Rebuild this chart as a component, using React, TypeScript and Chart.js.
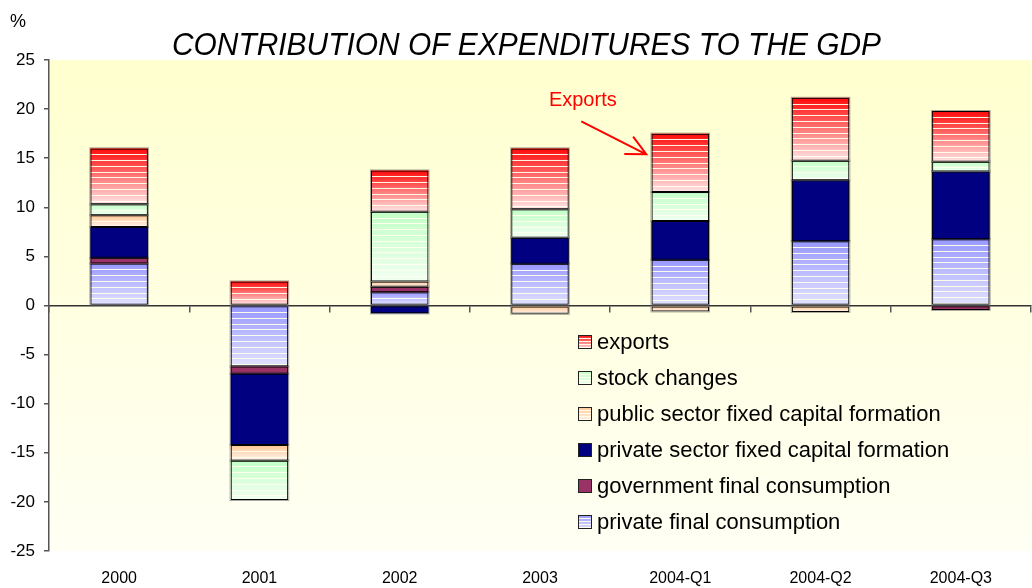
import React, { useEffect, useRef } from "react";
import { Chart, registerables } from "chart.js";

Chart.register(...registerables);

// ---------- DATA ----------
const categories = ["2000", "2001", "2002", "2003", "2004-Q1", "2004-Q2", "2004-Q3"];
const privateFinalConsumption = [4.27, -6.2, 1.35, 4.25, 4.65, 6.55, 6.75];
const governmentFinalConsumption = [0.58, -0.75, 0.55, -0.1, -0.1, -0.1, -0.45];
const privateSectorFixedCapital = [3.15, -7.25, -0.8, 2.65, 3.95, 6.2, 6.9];
const publicSectorFixedCapital = [1.2, -1.6, 0.55, -0.75, -0.5, -0.55, 0];
const stockChanges = [1.1, -4.0, 7.1, 2.9, 2.95, 2.0, 1.0];
const exportsContribution = [5.7, 2.45, 4.2, 6.2, 5.95, 6.4, 5.15];

const seriesLabels = [
  "private final consumption",
  "government final consumption",
  "private sector fixed capital formation",
  "public sector fixed capital formation",
  "stock changes",
  "exports",
];
const yMin = -25;
const yMax = 25;
const yStep = 5;
const titleText = "CONTRIBUTION OF EXPENDITURES TO THE GDP";
const unitText = "%";
const annotationText = "Exports";
const annotationCategory = 4;
const annotationTipValue = 15.4;
const annotationTailValue = 18.75;
const annotationTextValue = 20.27;

// ---------- STYLES ----------
type Fill = { top: string; bottom: string; striped: boolean };
const fills: Fill[] = [
  { top: "#9898FF", bottom: "#E2E2FF", striped: true },
  { top: "#993366", bottom: "#993366", striped: false },
  { top: "#000080", bottom: "#000080", striped: false },
  { top: "#FFC894", bottom: "#FFF3EC", striped: true },
  { top: "#C2FFC6", bottom: "#F2FFF2", striped: true },
  { top: "#FF0A0A", bottom: "#FFE6E6", striped: true },
];
const FONT = "'Liberation Sans', Arial, sans-serif";

function paintBlock(ctx: CanvasRenderingContext2D, x: number, y: number, w: number, h: number, f: Fill, gap: number) {
  ctx.save();
  const g = ctx.createLinearGradient(0, y, 0, y + h);
  g.addColorStop(0, f.top);
  g.addColorStop(1, f.bottom);
  ctx.fillStyle = g;
  ctx.fillRect(x, y, w, h);
  if (f.striped) {
    ctx.fillStyle = "rgba(255,255,236,0.95)";
    for (let sy = y + gap; sy < y + h - 1.5; sy += gap) {
      ctx.fillRect(x, Math.round(sy), w, 1);
    }
  }
  ctx.restore();
}

const decorPlugin = {
  id: "decor",
  beforeDraw(chart: any) {
    const { ctx, chartArea: a, width, height } = chart;
    ctx.save();
    ctx.fillStyle = "#ffffff";
    ctx.fillRect(0, 0, width, height);
    const g = ctx.createLinearGradient(0, a.top, 0, a.bottom);
    g.addColorStop(0, "#FFFFCF");
    g.addColorStop(1, "#FFFFF4");
    ctx.fillStyle = g;
    ctx.fillRect(a.left, a.top, a.right - a.left, a.bottom - a.top);
    ctx.restore();
  },
  beforeDatasetsDraw(chart: any) {
    const ctx = chart.ctx;
    chart.data.datasets.forEach((_ds: any, i: number) => {
      const meta = chart.getDatasetMeta(i);
      if (meta.hidden) return;
      meta.data.forEach((el: any) => {
        const left = el.x - el.width / 2;
        const top = Math.min(el.y, el.base);
        const h = Math.abs(el.base - el.y);
        if (h < 0.5) return;
        ctx.save();
        ctx.strokeStyle = "rgba(90,90,90,0.55)";
        ctx.lineWidth = 1;
        ctx.strokeRect(left - 0.5, top - 0.5, el.width + 1, h + 1);
        ctx.restore();
        paintBlock(ctx, left, top, el.width, h, fills[i], 5.8);
      });
    });
  },
  afterDraw(chart: any) {
    const { ctx, chartArea: a } = chart;
    const xs = chart.scales.x;
    const ys = chart.scales.y;
    ctx.save();
    // unit
    ctx.fillStyle = "#000";
    ctx.font = `18px ${FONT}`;
    ctx.textAlign = "left";
    ctx.textBaseline = "alphabetic";
    ctx.fillText(unitText, 10, 27);
    // title
    ctx.save();
    ctx.translate(a.left + 477.5, 55);
    ctx.scale(0.965, 1);
    ctx.font = `italic 31px ${FONT}`;
    ctx.textAlign = "center";
    ctx.fillText(titleText, 0, 0);
    ctx.restore();

    // annotation
    const cx = xs.getPixelForValue(annotationCategory);
    const tipX = cx - 34;
    const tipY = ys.getPixelForValue(annotationTipValue);
    const tailX = cx - 99;
    const tailY = ys.getPixelForValue(annotationTailValue);
    ctx.strokeStyle = "#FF0000";
    ctx.fillStyle = "#FF0000";
    ctx.lineWidth = 2;
    ctx.beginPath();
    ctx.moveTo(tailX, tailY);
    ctx.lineTo(tipX, tipY);
    const ang = Math.atan2(tipY - tailY, tipX - tailX);
    const hl = 22;
    const ha = 0.46;
    ctx.moveTo(tipX - hl * Math.cos(ang - ha), tipY - hl * Math.sin(ang - ha));
    ctx.lineTo(tipX, tipY);
    ctx.lineTo(tipX - hl * Math.cos(ang + ha), tipY - hl * Math.sin(ang + ha));
    ctx.stroke();
    ctx.font = `20px ${FONT}`;
    ctx.textAlign = "center";
    ctx.fillText(annotationText, cx - 97.5, ys.getPixelForValue(annotationTextValue));

    // legend (reversed order)
    const lx = a.left + 529;
    const ly0 = 342;
    const rowGap = 36;
    ctx.font = `22px ${FONT}`;
    ctx.textAlign = "left";
    ctx.textBaseline = "middle";
    const n = chart.data.datasets.length;
    for (let r = 0; r < n; r++) {
      const i = n - 1 - r;
      const cy = ly0 + r * rowGap;
      paintBlock(ctx, lx, cy - 7, 13, 14, fills[i], 3);
      ctx.strokeStyle = "#222";
      ctx.lineWidth = 1;
      ctx.strokeRect(lx + 0.5, cy - 6.5, 13, 13);
      ctx.fillStyle = "#000";
      ctx.fillText(chart.data.datasets[i].label, lx + 19, cy + 1);
    }
    ctx.restore();
  },
};

export default function App() {
  const ref = useRef<HTMLCanvasElement | null>(null);
  useEffect(() => {
    if (!ref.current) return;
    const series = [
      privateFinalConsumption,
      governmentFinalConsumption,
      privateSectorFixedCapital,
      publicSectorFixedCapital,
      stockChanges,
      exportsContribution,
    ];
    const chart = new Chart(ref.current, {
      type: "bar",
      data: {
        labels: categories,
        datasets: series.map((d, i) => ({
          label: seriesLabels[i],
          data: d,
          backgroundColor: "rgba(0,0,0,0)",
          borderColor: "#000000",
          borderWidth: 1,
          borderSkipped: false,
          barPercentage: 0.41,
          categoryPercentage: 1,
        })),
      },
      options: {
        animation: false,
        responsive: false,
        layout: { padding: { top: 60, right: 1, left: 0, bottom: 0 } },
        plugins: { legend: { display: false }, title: { display: false }, tooltip: { enabled: false } },
        scales: {
          x: {
            stacked: true,
            offset: true,
            grid: { display: false, drawTicks: false },
            border: { display: false },
            ticks: { color: "#000", font: { family: FONT, size: 16 }, padding: 18, maxRotation: 0, autoSkip: false },
            afterFit: (s: any) => {
              s.height = 37;
            },
          },
          x2: {
            type: "category",
            labels: categories,
            position: { y: 0 },
            offset: true,
            ticks: { display: false },
            grid: { display: true, drawOnChartArea: false, drawTicks: true, tickLength: 6, color: "#555", lineWidth: 1.5, offset: true },
            border: { display: true, color: "#333", width: 1.5 },
          },
          y: {
            stacked: true,
            min: yMin,
            max: yMax,
            ticks: { stepSize: yStep, color: "#000", font: { family: FONT, size: 17 }, padding: 9 },
            grid: { drawOnChartArea: false, tickLength: 5, color: "#555", lineWidth: 1.5 },
            border: { display: true, color: "#555", width: 1.5 },
            afterFit: (s: any) => {
              s.width = 49;
            },
          },
        },
      } as any,
      plugins: [decorPlugin],
    });
    return () => chart.destroy();
  }, []);
  return (
    <div style={{ position: "absolute", left: 0, top: 0, width: 1032, height: 588 }}>
      <canvas ref={ref} width={1032} height={588} />
    </div>
  );
}
